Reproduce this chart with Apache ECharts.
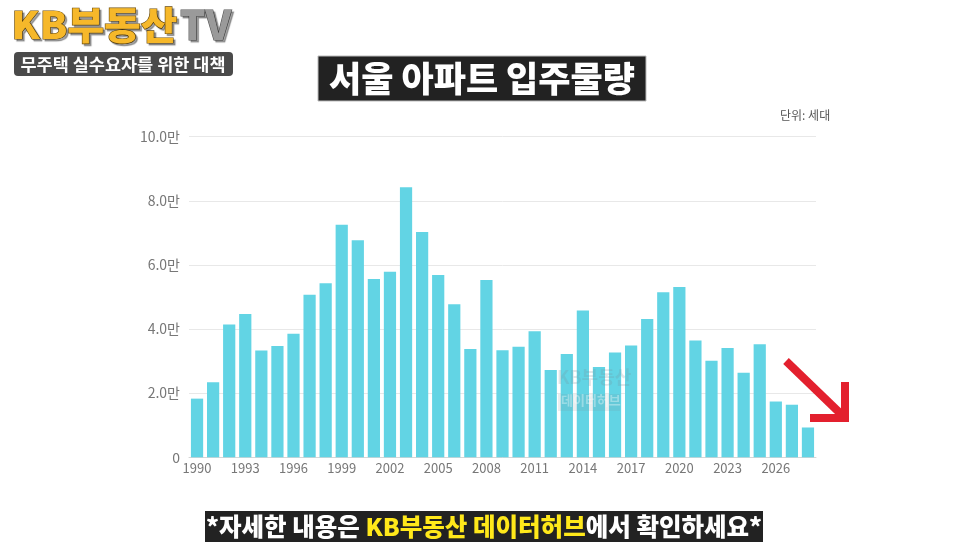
<!DOCTYPE html>
<html><head><meta charset="utf-8">
<script src="https://cdn.jsdelivr.net/npm/echarts@6/dist/echarts.min.js"></script>
<style>html,body{margin:0;padding:0;background:#fff}#c{width:966px;height:544px}</style>
</head><body><div id="c"></div>
<script>
const years = ['1990','1991','1992','1993','1994','1995','1996','1997','1998','1999','2000','2001','2002','2003','2004','2005','2006','2007','2008','2009','2010','2011','2012','2013','2014','2015','2016','2017','2018','2019','2020','2021','2022','2023','2024','2025','2026','2027','2028'];
const supply = [18300,23400,41400,44700,33300,34700,38500,50700,54300,72500,67700,55600,57900,84200,70300,56900,47700,33800,55300,33400,34500,39300,27200,32200,45800,28200,32700,34900,43100,51500,53100,36400,30100,34100,26400,35300,17400,16400,9300];
const yTicks = [0,20000,40000,60000,80000,100000];
const titleText = '서울 아파트 입주물량';
const unitText = '단위: 세대';
const logoMain = 'KB부동산';
const logoTV = 'TV';
const logoSub = '무주택 실수요자를 위한 대책';
const captionParts = ['*자세한 내용은 ', 'KB부동산 데이터허브', '에서 확인하세요*'];
const watermark = ['KB부동산', '데이터허브'];

const chart = echarts.init(document.getElementById('c'), null, {renderer:'canvas'});
const KR = '"Noto Sans CJK KR", "Noto Sans", sans-serif';
chart.setOption({
  backgroundColor:'#ffffff',
  animation:false,
  grid:{left:189, top:136.7, width:627, height:320.6, containLabel:false},
  xAxis:{type:'category', data:years,
    axisLine:{show:true, lineStyle:{color:'#d6d6d6', width:1}},
    axisTick:{show:false},
    axisLabel:{interval:2, color:'#777', fontSize:13, fontFamily:KR, margin:4}
  },
  yAxis:{type:'value', min:yTicks[0], max:yTicks[yTicks.length-1], interval:20000,
    axisLine:{show:false}, axisTick:{show:false},
    splitLine:{lineStyle:{color:'#e8e8e8'}},
    axisLabel:{color:'#777', fontSize:14, fontFamily:KR, margin:9,
      formatter:v=> v===0 ? '0' : (v/10000).toFixed(1)+'만'}
  },
  series:[{type:'bar', data:supply, barCategoryGap:'24%',
    itemStyle:{color:'#62d4e4'}}],
  graphic:[
    // watermark
    {type:'text', x:557, y:368, z:10, style:{text:watermark[0], fill:'rgba(120,140,150,0.22)', font:'bold 18px '+KR}},
    {type:'rect', x:558, y:394, z:10, shape:{width:62, height:17}, style:{fill:'rgba(120,140,150,0.15)'}},
    {type:'text', x:561, y:394, z:10, style:{text:watermark[1], fill:'rgba(255,255,255,0.35)', font:'bold 13px '+KR}},
    // title box
    {type:'rect', x:318, y:56, z:20, shape:{width:328, height:45}, style:{fill:'#222', stroke:'#bbb', lineWidth:1}},
    {type:'text', x:482, y:79, z:21, style:{text:titleText, fill:'#fff', font:'900 35px '+KR, align:'center', verticalAlign:'middle'}},
    // unit
    {type:'text', x:780, y:109, z:20, style:{text:unitText, fill:'#555', font:'12px '+KR}},
    // logo
    {type:'text', x:12, y:25, z:21, scaleX:1.05, originX:12, originY:25, style:{text:logoMain, font:'900 38px '+KR,
      fill:'#f6b82a', stroke:'#6b4c0c', lineWidth:1.2, verticalAlign:'middle', textShadowColor:'rgba(0,0,0,0.35)', textShadowOffsetX:2, textShadowOffsetY:2, textShadowBlur:1}},
    {type:'text', x:180, y:25, z:21, style:{text:logoTV, font:'900 40px '+KR,
      fill:'#9a9a9a', stroke:'#555', lineWidth:1.2, verticalAlign:'middle', textShadowColor:'rgba(0,0,0,0.35)', textShadowOffsetX:2, textShadowOffsetY:2, textShadowBlur:1}},
    {type:'rect', x:14, y:52, z:20, shape:{width:219, height:24, r:4}, style:{fill:'#4a4a4a'}},
    {type:'text', x:123, y:64, z:21, style:{text:logoSub, fill:'#fff', font:'bold 17.5px '+KR, align:'center', verticalAlign:'middle'}},
    // caption
    {type:'rect', x:205, y:511, z:20, shape:{width:558, height:31}, style:{fill:'#222'}},
    {type:'text', x:484, y:527, z:21, style:{
      text:'{w|'+captionParts[0]+'}{y|'+captionParts[1]+'}{w|'+captionParts[2]+'}',
      align:'center', verticalAlign:'middle',
      rich:{w:{fill:'#fff', font:'900 24.5px '+KR}, y:{fill:'#ffe81a', font:'900 24.5px '+KR}}}},
    // red arrow
    {type:'polyline', z:20, shape:{points:[[786,361],[843,416]]}, style:{stroke:'#e3202e', lineWidth:8, fill:null}},
    {type:'polyline', z:20, shape:{points:[[845,382],[845,418],[810,418]]}, style:{stroke:'#e3202e', lineWidth:8, fill:null, lineJoin:'miter'}}
  ]
});
</script></body></html>
